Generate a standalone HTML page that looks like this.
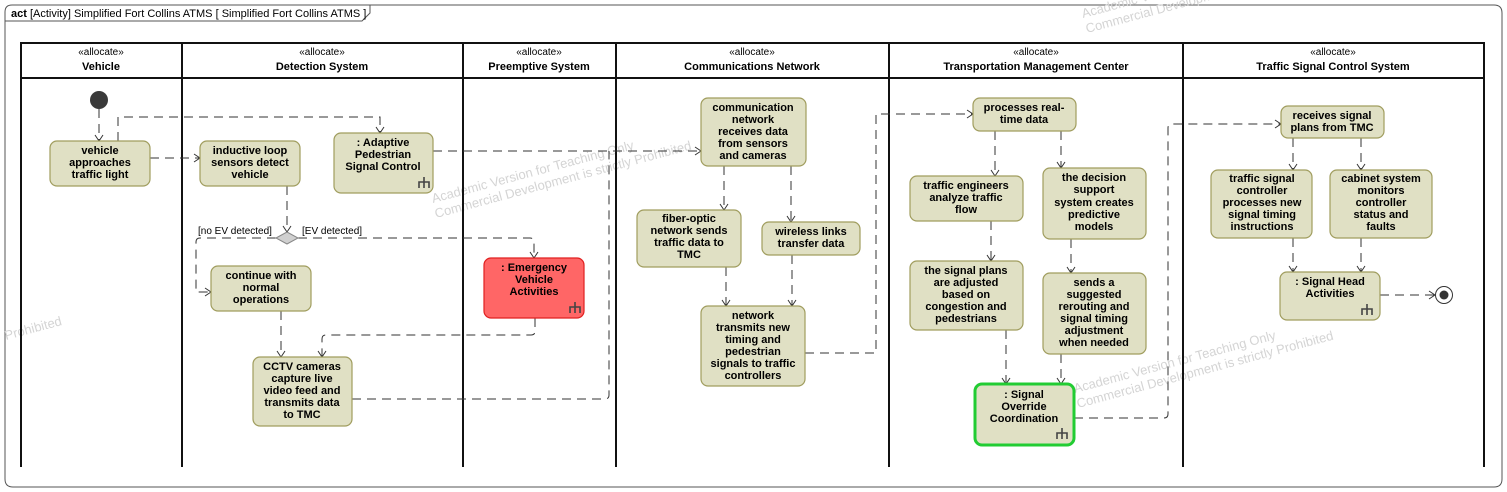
<!DOCTYPE html>
<html><head><meta charset="utf-8"><style>
html,body{margin:0;padding:0;background:#fff;}
svg{display:block;font-family:"Liberation Sans",Arial,sans-serif;}
.n{fill:#e0e0c4;stroke:#a09d5e;stroke-width:1.2;}
.t{font-size:11px;font-weight:bold;fill:#000;text-anchor:middle;}
.e{fill:none;stroke:#333;stroke-width:1;stroke-dasharray:9,6;}
.a{fill:none;stroke:#333;stroke-width:1;}
.h1{font-size:10px;text-anchor:middle;fill:#000;}
.h2{font-size:11px;font-weight:bold;text-anchor:middle;fill:#000;}
.wm{font-size:13px;fill:#d4d4d4;}
.lbl{font-size:10px;fill:#000;}
</style></head><body>
<svg width="1507" height="492" viewBox="0 0 1507 492" xmlns="http://www.w3.org/2000/svg">
<!-- frame -->
<path d="M5,12 Q5,5 12,5 L1494,5 Q1502,5 1502,13 L1502,479 Q1502,487 1494,487 L13,487 Q5,487 5,479 Z" fill="none" stroke="#555" stroke-width="1"/>
<path d="M5,21 L362,21 L370,13 L370,5" fill="none" stroke="#555" stroke-width="1"/>
<text x="11" y="17" font-size="11" fill="#000"><tspan font-weight="bold">act</tspan> [Activity] Simplified Fort Collins ATMS [ Simplified Fort Collins ATMS ]</text>

<!-- watermarks -->
<g class="wm">
<text transform="translate(1083,18) rotate(-15)">Academic Version for Teaching Only</text>
<text transform="translate(1087,33) rotate(-15)">Commercial Development is strictly Prohibited</text>
<text transform="translate(433,203) rotate(-15)">Academic Version for Teaching Only</text>
<text transform="translate(436,218) rotate(-15)">Commercial Development is strictly Prohibited</text>
<text transform="translate(1075,393) rotate(-15)">Academic Version for Teaching Only</text>
<text transform="translate(1078,408) rotate(-15)">Commercial Development is strictly Prohibited</text>
<text transform="translate(6,340) rotate(-15)">Prohibited</text>
</g>

<!-- swimlanes -->
<g stroke="#111" stroke-width="2" fill="none">
<path d="M21,467 L21,43 L1484,43 L1484,467"/>
<line x1="21" y1="78" x2="1484" y2="78"/>
<line x1="182" y1="43" x2="182" y2="467"/>
<line x1="463" y1="43" x2="463" y2="467"/>
<line x1="616" y1="43" x2="616" y2="467"/>
<line x1="889" y1="43" x2="889" y2="467"/>
<line x1="1183" y1="43" x2="1183" y2="467"/>
</g>
<g>
<text class="h1" x="101" y="55">«allocate»</text><text class="h2" x="101" y="70">Vehicle</text>
<text class="h1" x="322" y="55">«allocate»</text><text class="h2" x="322" y="70">Detection System</text>
<text class="h1" x="539" y="55">«allocate»</text><text class="h2" x="539" y="70">Preemptive System</text>
<text class="h1" x="752" y="55">«allocate»</text><text class="h2" x="752" y="70">Communications Network</text>
<text class="h1" x="1036" y="55">«allocate»</text><text class="h2" x="1036" y="70">Transportation Management Center</text>
<text class="h1" x="1333" y="55">«allocate»</text><text class="h2" x="1333" y="70">Traffic Signal Control System</text>
</g>

<!-- edges -->
<g>
<path class="e" d="M99,109 L99,141"/>
<path class="e" d="M118,141 L118,117 L380,117 L380,133"/>
<path class="e" d="M150,158 L200,158"/>
<path class="e" d="M287,186 L287,232"/>
<path class="e" d="M276,238 L200,238 Q196,238 196,242 L196,292 L211,292"/>
<path class="e" d="M298,238 L530,238 Q534,238 534,242 L534,258"/>
<path class="e" d="M281,311 L281,357"/>
<path class="e" d="M535,318 L535,331 Q535,335 531,335 L326,335 Q322,335 322,339 L322,357"/>
<path class="e" d="M352,399 L605,399 Q609,399 609,395 L609,151"/>
<path class="e" d="M433,151 L701,151"/>
<path class="e" d="M724,166 L724,210"/>
<path class="e" d="M791,166 L791,222"/>
<path class="e" d="M726,267 L726,306"/>
<path class="e" d="M792,255 L792,306"/>
<path class="e" d="M805,353 L876,353 L876,114 L973,114"/>
<path class="e" d="M995,131 L995,176"/>
<path class="e" d="M1061,131 L1061,168"/>
<path class="e" d="M991,221 L991,261"/>
<path class="e" d="M1071,239 L1071,273"/>
<path class="e" d="M1006,330 L1006,384"/>
<path class="e" d="M1061,354 L1061,384"/>
<path class="e" d="M1074,418 L1164,418 Q1168,418 1168,414 L1168,128 Q1168,124 1172,124 L1281,124"/>
<path class="e" d="M1293,138 L1293,170"/>
<path class="e" d="M1361,138 L1361,170"/>
<path class="e" d="M1293,238 L1293,272"/>
<path class="e" d="M1361,238 L1361,272"/>
<path class="e" d="M1380,295 L1435,295"/>
<!-- arrowheads -->
<path class="a" d="M95,135 L99,141 L103,135"/>
<path class="a" d="M376,127 L380,133 L384,127"/>
<path class="a" d="M194,154 L200,158 L194,162"/>
<path class="a" d="M283,226 L287,232 L291,226"/>
<path class="a" d="M205,288 L211,292 L205,296"/>
<path class="a" d="M530,252 L534,258 L538,252"/>
<path class="a" d="M277,351 L281,357 L285,351"/>
<path class="a" d="M318,351 L322,357 L326,351"/>
<path class="a" d="M695,147 L701,151 L695,155"/>
<path class="a" d="M720,204 L724,210 L728,204"/>
<path class="a" d="M787,216 L791,222 L795,216"/>
<path class="a" d="M722,300 L726,306 L730,300"/>
<path class="a" d="M788,300 L792,306 L796,300"/>
<path class="a" d="M967,110 L973,114 L967,118"/>
<path class="a" d="M991,170 L995,176 L999,170"/>
<path class="a" d="M1057,162 L1061,168 L1065,162"/>
<path class="a" d="M987,255 L991,261 L995,255"/>
<path class="a" d="M1067,267 L1071,273 L1075,267"/>
<path class="a" d="M1002,378 L1006,384 L1010,378"/>
<path class="a" d="M1057,378 L1061,384 L1065,378"/>
<path class="a" d="M1275,120 L1281,124 L1275,128"/>
<path class="a" d="M1289,164 L1293,170 L1297,164"/>
<path class="a" d="M1357,164 L1361,170 L1365,164"/>
<path class="a" d="M1289,266 L1293,272 L1297,266"/>
<path class="a" d="M1357,266 L1361,272 L1365,266"/>
<path class="a" d="M1429,291 L1435,295 L1429,299"/>
</g>
<text class="lbl" x="198" y="234">[no EV detected]</text>
<text class="lbl" x="302" y="234">[EV detected]</text>

<!-- initial / final / decision -->
<circle cx="99" cy="100" r="9" fill="#3a3a3a"/>
<circle cx="1444" cy="295" r="8.5" fill="#fff" stroke="#333" stroke-width="1"/>
<circle cx="1444" cy="295" r="4.5" fill="#333"/>
<path d="M276,238 L287,232 L298,238 L287,244 Z" fill="#d0d0d0" stroke="#888"/>

<!-- nodes -->
<g>
<rect class="n" x="50" y="141" width="100" height="45" rx="7"/>
<text class="t" x="100" y="154">vehicle<tspan x="100" dy="12">approaches</tspan><tspan x="100" dy="12">traffic light</tspan></text>

<rect class="n" x="200" y="141" width="100" height="45" rx="7"/>
<text class="t" x="250" y="154">inductive loop<tspan x="250" dy="12">sensors detect</tspan><tspan x="250" dy="12">vehicle</tspan></text>

<rect class="n" x="334" y="133" width="99" height="60" rx="7"/>
<text class="t" x="383" y="146">: Adaptive<tspan x="383" dy="12">Pedestrian</tspan><tspan x="383" dy="12">Signal Control</tspan></text>

<rect class="n" x="211" y="266" width="100" height="45" rx="7"/>
<text class="t" x="261" y="279">continue with<tspan x="261" dy="12">normal</tspan><tspan x="261" dy="12">operations</tspan></text>

<rect x="484" y="258" width="100" height="60" rx="7" fill="#ff6666" stroke="#e02020" stroke-width="1.2"/>
<text class="t" x="534" y="271">: Emergency<tspan x="534" dy="12">Vehicle</tspan><tspan x="534" dy="12">Activities</tspan></text>

<rect class="n" x="253" y="357" width="99" height="69" rx="7"/>
<text class="t" x="302" y="370">CCTV cameras<tspan x="302" dy="12">capture live</tspan><tspan x="302" dy="12">video feed and</tspan><tspan x="302" dy="12">transmits data</tspan><tspan x="302" dy="12">to TMC</tspan></text>

<rect class="n" x="701" y="98" width="105" height="68" rx="7"/>
<text class="t" x="753" y="111">communication<tspan x="753" dy="12">network</tspan><tspan x="753" dy="12">receives data</tspan><tspan x="753" dy="12">from sensors</tspan><tspan x="753" dy="12">and cameras</tspan></text>

<rect class="n" x="637" y="210" width="104" height="57" rx="7"/>
<text class="t" x="689" y="222">fiber-optic<tspan x="689" dy="12">network sends</tspan><tspan x="689" dy="12">traffic data to</tspan><tspan x="689" dy="12">TMC</tspan></text>

<rect class="n" x="762" y="222" width="98" height="33" rx="7"/>
<text class="t" x="811" y="235">wireless links<tspan x="811" dy="12">transfer data</tspan></text>

<rect class="n" x="701" y="306" width="104" height="80" rx="7"/>
<text class="t" x="753" y="319">network<tspan x="753" dy="12">transmits new</tspan><tspan x="753" dy="12">timing and</tspan><tspan x="753" dy="12">pedestrian</tspan><tspan x="753" dy="12">signals to traffic</tspan><tspan x="753" dy="12">controllers</tspan></text>

<rect class="n" x="973" y="98" width="103" height="33" rx="7"/>
<text class="t" x="1024" y="111">processes real-<tspan x="1024" dy="12">time data</tspan></text>

<rect class="n" x="910" y="176" width="113" height="45" rx="7"/>
<text class="t" x="966" y="189">traffic engineers<tspan x="966" dy="12">analyze traffic</tspan><tspan x="966" dy="12">flow</tspan></text>

<rect class="n" x="1043" y="168" width="103" height="71" rx="7"/>
<text class="t" x="1094" y="181">the decision<tspan x="1094" dy="12">support</tspan><tspan x="1094" dy="13">system creates</tspan><tspan x="1094" dy="12">predictive</tspan><tspan x="1094" dy="12">models</tspan></text>

<rect class="n" x="910" y="261" width="113" height="69" rx="7"/>
<text class="t" x="966" y="274">the signal plans<tspan x="966" dy="12">are adjusted</tspan><tspan x="966" dy="12">based on</tspan><tspan x="966" dy="12">congestion and</tspan><tspan x="966" dy="12">pedestrians</tspan></text>

<rect class="n" x="1043" y="273" width="103" height="81" rx="7"/>
<text class="t" x="1094" y="286">sends a<tspan x="1094" dy="12">suggested</tspan><tspan x="1094" dy="12">rerouting and</tspan><tspan x="1094" dy="12">signal timing</tspan><tspan x="1094" dy="12">adjustment</tspan><tspan x="1094" dy="12">when needed</tspan></text>

<rect x="975" y="384" width="99" height="61" rx="7" fill="#e0e0c4" stroke="#22cc33" stroke-width="3"/>
<text class="t" x="1024" y="398">: Signal<tspan x="1024" dy="12">Override</tspan><tspan x="1024" dy="12">Coordination</tspan></text>

<rect class="n" x="1281" y="106" width="103" height="32" rx="7"/>
<text class="t" x="1332" y="119">receives signal<tspan x="1332" dy="12">plans from TMC</tspan></text>

<rect class="n" x="1211" y="170" width="101" height="68" rx="7"/>
<text class="t" x="1262" y="182">traffic signal<tspan x="1262" dy="12">controller</tspan><tspan x="1262" dy="12">processes new</tspan><tspan x="1262" dy="12">signal timing</tspan><tspan x="1262" dy="12">instructions</tspan></text>

<rect class="n" x="1330" y="170" width="102" height="68" rx="7"/>
<text class="t" x="1381" y="182">cabinet system<tspan x="1381" dy="12">monitors</tspan><tspan x="1381" dy="12">controller</tspan><tspan x="1381" dy="12">status and</tspan><tspan x="1381" dy="12">faults</tspan></text>

<rect class="n" x="1280" y="272" width="100" height="48" rx="7"/>
<text class="t" x="1330" y="285">: Signal Head<tspan x="1330" dy="12">Activities</tspan></text>
</g>

<!-- rake icons -->
<g fill="none" stroke="#444" stroke-width="1.6">
<path d="M424,177 L424,188 M419,188 L419,182 L429,182 L429,188"/>
<path d="M575,302 L575,313 M570,313 L570,307 L580,307 L580,313"/>
<path d="M1062,428 L1062,439 M1057,439 L1057,433 L1067,433 L1067,439"/>
<path d="M1367,304 L1367,315 M1362,315 L1362,309 L1372,309 L1372,315"/>
</g>
</svg>
</body></html>
